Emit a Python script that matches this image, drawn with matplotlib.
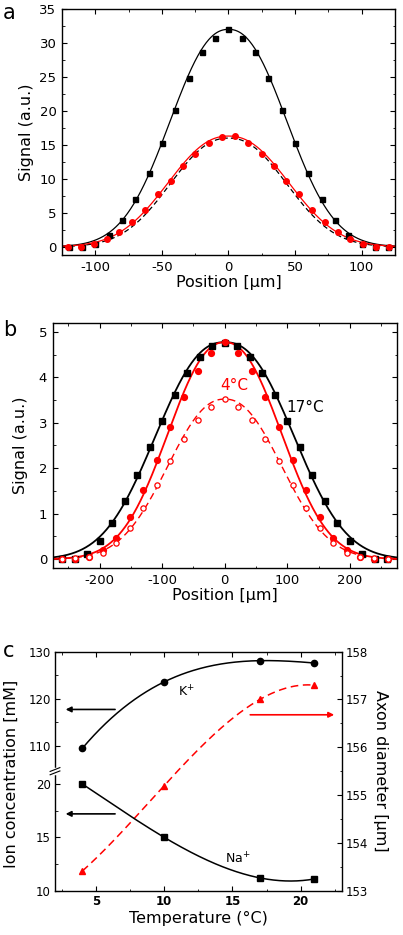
import matplotlib

matplotlib.use("Agg")
import matplotlib.pyplot as plt
import numpy as np
from matplotlib.ticker import MultipleLocator

plt.rcParams["font.family"] = ["DejaVu Sans"]
plt.rcParams["axes.unicode_minus"] = False
plt.rcParams["xtick.direction"] = "in"
plt.rcParams["ytick.direction"] = "in"
plt.rcParams["xtick.major.size"] = 3.5
plt.rcParams["ytick.major.size"] = 3.5
plt.rcParams["xtick.minor.size"] = 1.8
plt.rcParams["ytick.minor.size"] = 1.8
plt.rcParams["axes.linewidth"] = 1.0

# ---- panel a : signal profiles ----
pos_a_black = [-120, -110, -100, -90, -80, -70, -60, -50, -40, -30, -20, -10, 0,
               10, 20, 30, 40, 50, 60, 70, 80, 90, 100, 110, 120]
sig_a_black = [0.0, -0.1, 0.4, 1.7, 3.9, 7.0, 10.9, 15.3, 20.1, 24.8, 28.6, 30.8, 32.0,
               30.8, 28.6, 24.8, 20.1, 15.3, 10.9, 7.0, 3.9, 1.7, 0.4, 0.0, 0.0]
pos_a_red = [-120.4, -110.8, -101.0, -91.5, -82.0, -72.5, -63.0, -53.2, -43.5, -34.0, -24.8, -15.0, -5.0,
             5.0, 15.0, 24.8, 34.0, 43.5, 53.2, 63.0, 72.5, 82.0, 91.5, 101.0, 110.8, 120.4]
sig_a_red = [0.0, 0.0, 0.4, 1.1, 2.2, 3.6, 5.4, 7.7, 9.7, 11.9, 13.6, 15.25, 16.2,
             16.3, 15.25, 13.6, 11.9, 9.7, 7.7, 5.4, 3.6, 2.2, 1.1, 0.4, 0.0, 0.0]
# fit parameters (amplitude, width, exponent)
fit_a_black = (32.0, 57.3, 2.24)
fit_a_red = (16.3, 59.4, 2.23)
fit_a_half = (16.0, 57.3, 2.24)

# ---- panel b : 17°C / 4°C ----
pos_b_black = [-260, -240, -220, -200, -180, -160, -140, -120, -100, -80, -60, -40, -20, 0,
               20, 40, 60, 80, 100, 120, 140, 160, 180, 200, 220, 240, 260]
sig_b_black = [0.0, 0.0, 0.12, 0.39, 0.80, 1.29, 1.85, 2.46, 3.04, 3.60, 4.09, 4.44, 4.68, 4.75,
               4.68, 4.44, 4.09, 3.60, 3.04, 2.46, 1.85, 1.29, 0.80, 0.39, 0.12, 0.0, 0.0]
pos_b_red = [-260.4, -238.7, -217.0, -195.3, -173.6, -151.9, -130.2, -108.5, -86.8, -65.1, -43.4, -21.7, 0.0,
             21.7, 43.4, 65.1, 86.8, 108.5, 130.2, 151.9, 173.6, 195.3, 217.0, 238.7, 260.4]
sig_b_filled = [0.0, 0.0, 0.04, 0.20, 0.47, 0.93, 1.53, 2.19, 2.91, 3.57, 4.13, 4.54, 4.77,
                4.54, 4.13, 3.57, 2.91, 2.19, 1.53, 0.93, 0.47, 0.20, 0.04, 0.0, 0.0]
sig_b_open = [0.0, 0.03, 0.05, 0.13, 0.36, 0.69, 1.13, 1.63, 2.16, 2.65, 3.06, 3.35, 3.52,
              3.35, 3.06, 2.65, 2.16, 1.63, 1.13, 0.69, 0.36, 0.13, 0.05, 0.03, 0.0]
fit_b_black = (4.77, 141.0, 2.35)
fit_b_filled = (4.77, 119.3, 2.23)
fit_b_open = (3.52, 120.0, 2.22)

# ---- panel c : temperature dependence ----
temp = [4, 10, 17, 21]
k_conc = [109.5, 123.6, 128.1, 127.6]
na_conc = [20.0, 15.0, 11.2, 11.1]
axon_diam = [153.41, 155.2, 157.0, 157.3]


def profile(x, params):
    amp, width, expo = params
    return amp * np.exp(-(np.abs(x) / width) ** expo)


def smooth(xs, ys, n=200):
    # cubic through the four measured points
    coef = np.polyfit(xs, ys, 3)
    xx = np.linspace(min(xs), max(xs), n)
    return xx, np.polyval(coef, xx)


def mirror_ticks(ax):
    ax.tick_params(which="both", top=True, right=True)


RED = "#ff0000"
fig = plt.figure(figsize=(4.03, 9.35), dpi=100)

# ---------------- a ----------------
ax_a = fig.add_axes([0.1538, 0.7273, 0.8263, 0.2631])
xa = np.linspace(-125, 125, 500)
ax_a.plot(xa, profile(xa, fit_a_black), color="black", lw=0.9)
ax_a.plot(xa, profile(xa, fit_a_half), color="black", lw=0.9, ls=(0, (4, 2.5)))
ax_a.plot(xa, profile(xa, fit_a_red), color=RED, lw=0.9)
ax_a.plot(pos_a_black, sig_a_black, "s", color="black", ms=3.6)
ax_a.plot(pos_a_red, sig_a_red, "o", color=RED, ms=4.0)
ax_a.set_xlim(-125, 125)
ax_a.set_ylim(-1.2, 35)
ax_a.xaxis.set_major_locator(MultipleLocator(50))
ax_a.xaxis.set_minor_locator(MultipleLocator(25))
ax_a.yaxis.set_major_locator(MultipleLocator(5))
ax_a.yaxis.set_minor_locator(MultipleLocator(2.5))
mirror_ticks(ax_a)
ax_a.tick_params(labelsize=9.5, pad=4)
ax_a.set_xlabel("Position [µm]", fontsize=11.5, labelpad=1)
ax_a.set_ylabel("Signal (a.u.)", fontsize=11.5, labelpad=4)

# ---------------- b ----------------
ax_b = fig.add_axes([0.1308, 0.3922, 0.8536, 0.2627])
xb = np.linspace(-275, 275, 600)
ax_b.plot(xb, profile(xb, fit_b_black), color="black", lw=1.3)
ax_b.plot(xb, profile(xb, fit_b_filled), color=RED, lw=1.3)
ax_b.plot(xb, profile(xb, fit_b_open), color=RED, lw=1.0, ls=(0, (5, 3)))
ax_b.plot(pos_b_black, sig_b_black, "s", color="black", ms=4.2)
ax_b.plot(pos_b_red, sig_b_filled, "o", color=RED, ms=4.2)
ax_b.plot(pos_b_red, sig_b_open, "o", mfc="white", mec=RED, mew=0.9, ms=3.8)
ax_b.text(16, 3.82, "4°C", color=RED, fontsize=11, ha="center", va="center")
ax_b.text(128, 3.34, "17°C", color="black", fontsize=11, ha="center", va="center")
ax_b.set_xlim(-275, 275)
ax_b.set_ylim(-0.2, 5.2)
ax_b.xaxis.set_major_locator(MultipleLocator(100))
ax_b.xaxis.set_minor_locator(MultipleLocator(50))
ax_b.yaxis.set_major_locator(MultipleLocator(1))
ax_b.yaxis.set_minor_locator(MultipleLocator(0.5))
mirror_ticks(ax_b)
ax_b.tick_params(labelsize=9.5, pad=4)
ax_b.set_xlabel("Position [µm]", fontsize=11.5, labelpad=1)
ax_b.set_ylabel("Signal (a.u.)", fontsize=11.5, labelpad=8)

# ---------------- c ----------------
c_left, c_width = 0.1365, 0.7114
ax_c = fig.add_axes([c_left, 0.0474, c_width, 0.2556])
ax_k = fig.add_axes([c_left, 0.1786, c_width, 0.1244])
ax_na = fig.add_axes([c_left, 0.0474, c_width, 0.1312])

# right scale: axon diameter
tx, ty = smooth(temp, axon_diam)
ax_c.plot(tx, ty, color=RED, lw=1.1, ls=(0, (5, 3)))
ax_c.plot(temp, axon_diam, "^", color=RED, ms=4.5)
ax_c.set_xlim(2, 23)
ax_c.set_ylim(153, 158)
ax_c.yaxis.tick_right()
ax_c.yaxis.set_label_position("right")
ax_c.yaxis.set_major_locator(MultipleLocator(1))
ax_c.yaxis.set_minor_locator(MultipleLocator(0.5))
ax_c.xaxis.set_major_locator(MultipleLocator(5))
ax_c.xaxis.set_minor_locator(MultipleLocator(2.5))
ax_c.tick_params(axis="x", which="both", top=True)
ax_c.tick_params(axis="y", which="both", left=False, right=True)
ax_c.tick_params(labelsize=8.5, pad=3)
for lab in ax_c.get_xticklabels():
    lab.set_fontweight("bold")
ax_c.set_xlabel("Temperature (°C)", fontsize=11.5, labelpad=2)
ax_c.set_ylabel("Axon diameter [µm]", fontsize=11.5, rotation=270, labelpad=14)
ax_c.annotate("", xy=(22.45, 156.68), xytext=(16.3, 156.68),
              arrowprops=dict(arrowstyle="-|>", color=RED, lw=1.2, mutation_scale=8,
                              shrinkA=0, shrinkB=0))

# break marks on the left spine
yb = 0.5
ax_c.plot([0, 0], [yb - 0.008, yb + 0.008], color="white", lw=2.5,
          transform=ax_c.transAxes, clip_on=False, zorder=5)
for off in (-0.007, 0.007):
    ax_c.plot([-0.017, 0.017], [yb + off - 0.008, yb + off + 0.008], color="black", lw=0.8,
              transform=ax_c.transAxes, clip_on=False, zorder=6)

# left scale, upper part: K+
kx, ky = smooth(temp, k_conc)
ax_k.plot(kx, ky, color="black", lw=1.1)
ax_k.plot(temp, k_conc, "o", color="black", ms=4.5)
ax_k.text(11.65, 121.5, "K$^{+}$", fontsize=9, ha="center", va="center")
ax_k.annotate("", xy=(2.78, 117.75), xytext=(6.4, 117.75),
              arrowprops=dict(arrowstyle="-|>", color="black", lw=1.2, mutation_scale=8,
                              shrinkA=0, shrinkB=0))
ax_k.set_xlim(2, 23)
ax_k.set_ylim(105.33, 130)
ax_k.yaxis.set_major_locator(MultipleLocator(10))
ax_k.yaxis.set_minor_locator(MultipleLocator(5))

# left scale, lower part: Na+
nx, ny = smooth(temp, na_conc)
ax_na.plot(nx, ny, color="black", lw=1.1)
ax_na.plot(temp, na_conc, "s", color="black", ms=4.0)
ax_na.text(15.4, 13.0, "Na$^{+}$", fontsize=9, ha="center", va="center")
ax_na.annotate("", xy=(2.78, 17.2), xytext=(6.4, 17.2),
               arrowprops=dict(arrowstyle="-|>", color="black", lw=1.2, mutation_scale=8,
                               shrinkA=0, shrinkB=0))
ax_na.set_xlim(2, 23)
ax_na.set_ylim(10, 21.5)
ax_na.yaxis.set_major_locator(MultipleLocator(5))
ax_na.yaxis.set_minor_locator(MultipleLocator(2.5))

for ax in (ax_k, ax_na):
    ax.patch.set_visible(False)
    for sp in ax.spines.values():
        sp.set_visible(False)
    ax.tick_params(axis="x", which="both", bottom=False, labelbottom=False)
    ax.tick_params(axis="y", labelsize=8.5, pad=3)

fig.text(0.027, 0.172, "Ion concentration [mM]", fontsize=11.5, rotation=90,
         ha="center", va="center")

# panel letters
fig.text(0.008, 1 - 13 / 935, "a", fontsize=15, va="center")
fig.text(0.008, 1 - 330 / 935, "b", fontsize=15, va="center")
fig.text(0.008, 1 - 651 / 935, "c", fontsize=15, va="center")

fig.savefig("out.png", dpi=100)
